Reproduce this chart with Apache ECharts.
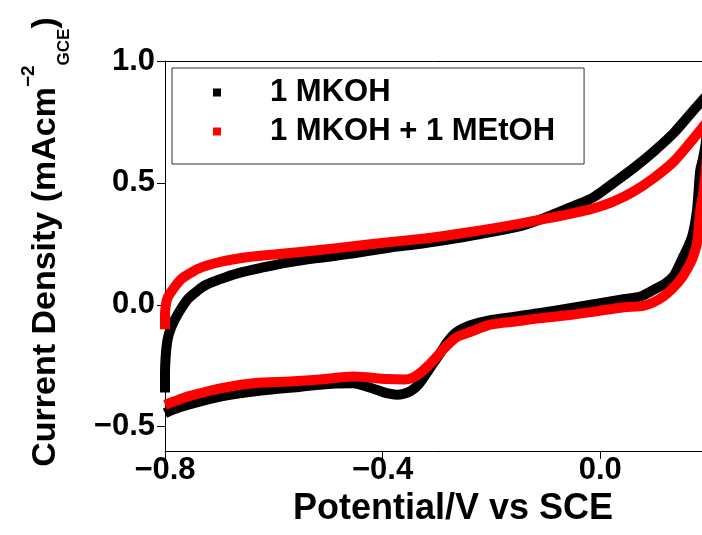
<!DOCTYPE html>
<html>
<head>
<meta charset="utf-8">
<script src="https://cdn.jsdelivr.net/npm/echarts@6/dist/echarts.min.js"></script>
<style>
  html, body { margin: 0; padding: 0; background: #fff; }
  #chart { width: 702px; height: 535px; }
</style>
</head>
<body>
<div id="chart"></div>
<script>
// Cyclic voltammograms: potential (V vs SCE), current density (mA cm^-2 GCE)
const seriesNames = ['1 MKOH', '1 MKOH + 1 MEtOH'];
const potentialTicks = [-0.8, -0.4, 0.0];
const currentTicks = [-0.5, 0.0, 0.5, 1.0];

// 1 M KOH, anodic sweep (-0.8 -> 0.2 V)
const kohAnodic = [
  [-0.8,-0.36],[-0.8,-0.28],[-0.799,-0.22],[-0.797,-0.17],[-0.794,-0.13],[-0.789,-0.095],
  [-0.782,-0.061],[-0.77,-0.015],[-0.757,0.026],[-0.74,0.058],[-0.726,0.08],[-0.70,0.104],
  [-0.665,0.13],[-0.62,0.153],[-0.573,0.174],[-0.515,0.193],[-0.45,0.212],[-0.392,0.233],
  [-0.33,0.25],[-0.294,0.262],[-0.22,0.29],[-0.147,0.322],[-0.10,0.358],[-0.049,0.405],
  [-0.013,0.44],[0.024,0.499],[0.061,0.56],[0.098,0.628],[0.135,0.704],[0.172,0.799],
  [0.194,0.854],[0.2,0.87]
];
// 1 M KOH, cathodic sweep (0.2 -> -0.8 V)
const kohCathodic = [
  [0.2,0.87],[0.198,0.79],[0.196,0.72],[0.194,0.663],[0.189,0.60],[0.184,0.553],
  [0.181,0.47],[0.178,0.389],[0.174,0.33],[0.169,0.28],[0.162,0.24],[0.153,0.198],
  [0.145,0.16],[0.135,0.118],[0.12,0.088],[0.098,0.061],[0.074,0.034],[0.043,0.023],
  [0.0,0.006],[-0.05,-0.012],[-0.11,-0.034],[-0.153,-0.048],[-0.202,-0.063],[-0.24,-0.085],
  [-0.264,-0.112],[-0.28,-0.15],[-0.294,-0.198],[-0.307,-0.24],[-0.319,-0.28],[-0.335,-0.33],
  [-0.349,-0.355],[-0.362,-0.366],[-0.374,-0.369],[-0.39,-0.364],[-0.41,-0.35],[-0.43,-0.335],
  [-0.454,-0.322],[-0.493,-0.324],[-0.55,-0.336],[-0.634,-0.355],[-0.696,-0.376],
  [-0.757,-0.41],[-0.785,-0.43],[-0.8,-0.445]
];
// 1 M KOH + 1 M EtOH, anodic sweep
const etohAnodic = [
  [-0.8,-0.1],[-0.8,-0.04],[-0.798,0.005],[-0.795,0.03],[-0.788,0.055],[-0.78,0.08],
  [-0.77,0.106],[-0.757,0.125],[-0.74,0.147],[-0.72,0.163],[-0.696,0.177],[-0.665,0.19],
  [-0.634,0.199],[-0.57,0.212],[-0.515,0.225],[-0.454,0.24],[-0.392,0.256],[-0.33,0.27],
  [-0.294,0.28],[-0.22,0.305],[-0.147,0.333],[-0.10,0.353],[-0.049,0.376],[-0.013,0.395],
  [0.024,0.423],[0.061,0.464],[0.098,0.519],[0.135,0.587],[0.172,0.683],[0.194,0.745],
  [0.2,0.765]
];
// 1 M KOH + 1 M EtOH, cathodic sweep
const etohCathodic = [
  [0.2,0.765],[0.196,0.6],[0.19,0.47],[0.184,0.389],[0.178,0.254],[0.172,0.205],
  [0.166,0.172],[0.147,0.102],[0.116,0.034],[0.08,-0.004],[0.043,-0.01],[-0.01,-0.028],
  [-0.06,-0.043],[-0.11,-0.055],[-0.153,-0.068],[-0.202,-0.082],[-0.239,-0.112],
  [-0.264,-0.133],[-0.285,-0.175],[-0.30,-0.212],[-0.316,-0.25],[-0.331,-0.28],
  [-0.345,-0.3],[-0.36,-0.307],[-0.392,-0.305],[-0.454,-0.294],[-0.515,-0.307],
  [-0.57,-0.315],[-0.634,-0.321],[-0.696,-0.342],[-0.757,-0.376],[-0.785,-0.398],[-0.8,-0.41]
];

const colors = ['#000000', '#ff0000'];
const FONT = "'Liberation Sans', Arial, sans-serif";

function fmt(v) {
  return v.toFixed(1).replace('-', '\u2212');
}

function branch(name, color, data) {
  return {
    name: name,
    type: 'line',
    data: data,
    showSymbol: false,
    smooth: 0.3,
    color: color,
    lineStyle: { color: color, width: 10, join: 'round', cap: 'butt' },
    itemStyle: { color: color },
    emphasis: { disabled: true },
    z: 2
  };
}

const chart = echarts.init(document.getElementById('chart'), null, { renderer: 'canvas' });
chart.setOption({
  animation: false,
  backgroundColor: '#ffffff',
  grid: { left: 165, right: -7, top: 61, bottom: 84, outerBoundsMode: 'none', containLabel: false },
  legend: {
    data: seriesNames,
    orient: 'vertical',
    left: 172,
    top: 68,
    padding: [9, 29, 17, 41],
    itemGap: 8,
    itemWidth: 8,
    itemHeight: 8,
    icon: 'rect',
    borderColor: '#333',
    borderWidth: 1,
    backgroundColor: '#fff',
    formatter: n => '{t|' + n + '}',
    textStyle: {
      rich: {
        t: { fontFamily: FONT, fontWeight: 'bold', fontSize: 31, lineHeight: 30, color: '#000', padding: [0, 0, 0, 44] }
      }
    }
  },
  xAxis: [{
    type: 'value',
    min: -0.8,
    max: 0.2,
    position: 'bottom',
    splitLine: { show: false },
    axisLine: { onZero: false, lineStyle: { color: '#000', width: 1 } },
    axisTick: { show: true, length: 8, customValues: potentialTicks, lineStyle: { color: '#000' } },
    axisLabel: {
      customValues: potentialTicks,
      formatter: fmt,
      margin: 4,
      fontFamily: FONT, fontWeight: 'bold', fontSize: 31, color: '#000'
    },
    name: 'Potential/V vs SCE',
    nameLocation: 'middle',
    nameGap: 36,
    nameTextStyle: { fontFamily: FONT, fontWeight: 'bold', fontSize: 36, color: '#000', padding: [0, 0, 0, 32] }
  }, {
    type: 'value',
    min: -0.8,
    max: 0.2,
    position: 'top',
    splitLine: { show: false },
    axisLine: { onZero: false, lineStyle: { color: '#000', width: 1 } },
    axisTick: { show: false },
    axisLabel: { show: false }
  }],
  yAxis: {
    type: 'value',
    min: -0.6,
    max: 1.0,
    splitLine: { show: false },
    axisLine: { show: true, onZero: false, lineStyle: { color: '#000', width: 1 } },
    axisTick: { show: true, length: 8, customValues: currentTicks, lineStyle: { color: '#000' } },
    axisLabel: {
      customValues: currentTicks,
      formatter: fmt,
      margin: 10,
      fontFamily: FONT, fontWeight: 'bold', fontSize: 31, color: '#000'
    },
    name: '{m|Current Density (mAcm}{sup|\u22122}{sub|GCE}{m|)}',
    nameLocation: 'middle',
    nameGap: 92,
    nameRotate: 90,
    nameTextStyle: {
      padding: [0, 0, 0, 28],
      rich: {
        m: { fontFamily: FONT, fontWeight: 'bold', fontSize: 34, lineHeight: 54, color: '#000', verticalAlign: 'middle' },
        sup: { fontFamily: FONT, fontWeight: 'bold', fontSize: 19, lineHeight: 54, color: '#000', verticalAlign: 'top' },
        sub: { fontFamily: FONT, fontWeight: 'bold', fontSize: 17, lineHeight: 54, color: '#000', verticalAlign: 'bottom' }
      }
    }
  },
  series: [
    branch(seriesNames[0], colors[0], kohAnodic),
    branch(seriesNames[0], colors[0], kohCathodic),
    branch(seriesNames[1], colors[1], etohAnodic),
    branch(seriesNames[1], colors[1], etohCathodic)
  ]
});
</script>
</body>
</html>
